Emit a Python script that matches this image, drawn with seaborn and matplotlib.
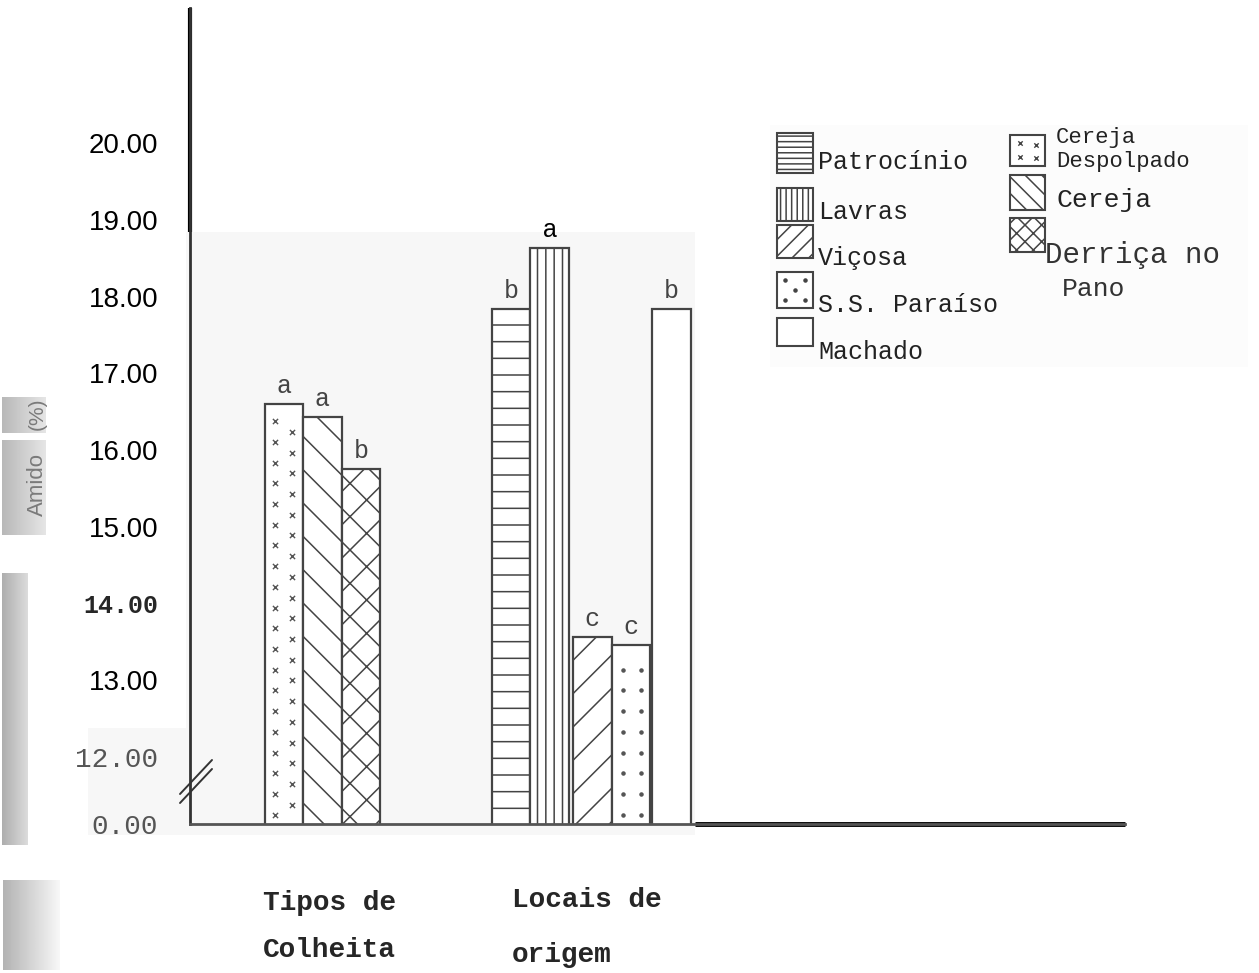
import numpy as np
import pandas as pd
import matplotlib
matplotlib.use("Agg")
import matplotlib.pyplot as plt
import seaborn as sns
from matplotlib.patches import Rectangle

# ---- data -----------------------------------------------------------------
colheita = ["Cereja Despolpado", "Cereja", "Derriça no Pano"]
colheita_vals = [16.60, 16.43, 15.75]
colheita_letters = ["a", "a", "b"]

locais = ["Patrocínio", "Lavras", "Viçosa", "S.S. Paraíso", "Machado"]
locais_vals = [17.84, 18.63, 13.56, 13.46, 17.84]
locais_letters = ["b", "a", "c", "c", "b"]

ytick_vals = [12, 13, 14, 15, 16, 17, 18, 19, 20]
ytick_labels = ["12.00", "13.00", "14.00", "15.00", "16.00",
                "17.00", "18.00", "19.00", "20.00"]
zero_label = "0.00"

group_labels = [("Tipos de", "Colheita"), ("Locais de", "origem")]
y_label_parts = ("Amido", "(%)")

# ---- style ----------------------------------------------------------------
sns.set_style("white")
SANS = "Liberation Sans"
MONO = "Liberation Mono"
plt.rcParams["font.family"] = [SANS, "DejaVu Sans"]
plt.rcParams["hatch.linewidth"] = 1.1

EDGE = "#444444"
hatches = {
    "Cereja": "\\", "Derriça no Pano": "x",
    "Patrocínio": "-", "Lavras": "||", "Viçosa": "/",
    "S.S. Paraíso": "", "Machado": "", "Cereja Despolpado": "",
}
# finer hatching for the small legend keys
legend_hatches = {
    "Cereja": "\\\\", "Derriça no Pano": "xx",
    "Patrocínio": "---", "Lavras": "|||", "Viçosa": "//",
    "S.S. Paraíso": "", "Machado": "", "Cereja Despolpado": "",
}

W, H = 1259, 973
fig = plt.figure(figsize=(W / 100, H / 100), dpi=100, facecolor="white")

# layer under the chart (paper patches) and over it (legend, captions)
under = fig.add_axes([0, 0, 1, 1], zorder=0)
under.set_xlim(0, W); under.set_ylim(H, 0); under.axis("off")
over = fig.add_axes([0, 0, 1, 1], zorder=3)
over.set_xlim(0, W); over.set_ylim(H, 0); over.axis("off")
over.patch.set_alpha(0)

ax = fig.add_axes([190 / W, (H - 824) / H, 935 / W, 816 / H], zorder=2)
ax.patch.set_alpha(0)

# broken axis: lower limit is drawn as 0.00
y_lo, y_hi = 11.127, 21.76
x_span = 935 / 38.5  # axis width in bar-width units

# ---- bar layout -----------------------------------------------------------
g1_start = 2.44
g1_pos = [g1_start + i for i in range(len(colheita))]
g2_start = 8.34
g2_gaps = np.cumsum([0, 0, 0.11, 0, 0.06])
g2_pos = [g2_start + i + g for i, g in enumerate(g2_gaps)]

names = colheita + locais
vals = colheita_vals + locais_vals
letters = colheita_letters + locais_letters
positions = g1_pos + g2_pos

for name, pos, val in zip(names, positions, vals):
    sns.barplot(x=[pos], y=[val], native_scale=True, width=1.0, ax=ax,
                color="white", saturation=1, edgecolor=EDGE, linewidth=1.6,
                hatch=hatches[name], zorder=2)
ax.set_xlim(0, x_span)
ax.set_ylim(y_lo, y_hi)

# scattered marks inside two bars
def marks_in_bar(pos, top, dx, step, stagger, marker, size):
    pts = []
    for j, off in enumerate(dx):
        ys = np.arange(y_lo + 0.12 + j * stagger, top - 0.12, step)
        pts += [(pos + off, y) for y in ys]
    pts = np.array(pts)
    ax.scatter(pts[:, 0], pts[:, 1], marker=marker, s=size, color="#555555",
               linewidths=1.0, zorder=3)

i_cd = names.index("Cereja Despolpado")
marks_in_bar(positions[i_cd], vals[i_cd], [-0.22, 0.2], 0.27, 0.13, "x", 14)
i_sp = names.index("S.S. Paraíso")
marks_in_bar(positions[i_sp], vals[i_sp], [-0.21, 0.26], 0.27, 0.0, "o", 5)

# significance letters
for name, pos, val, let in zip(names, positions, vals, letters):
    if name == "Lavras":
        kw = dict(family=SANS, color="black", fontsize=18)
    else:
        kw = dict(family=MONO, color="#444444", fontsize=18)
    ax.annotate(let, (pos, val), xytext=(0, 8), textcoords="offset points",
                ha="center", va="baseline", **kw)

# ---- axes -----------------------------------------------------------------
ax.set_xticks([])
ax.set_yticks([y_lo] + ytick_vals)
ax.set_yticklabels([zero_label] + ytick_labels)
ax.tick_params(axis="y", direction="out", length=3, width=2, pad=20,
               color="#222222", labelsize=20)
for lab in ax.get_yticklabels():
    t = lab.get_text()
    if t in ("0.00", "12.00"):
        lab.set_family(MONO); lab.set_color("#555555")
    elif t == "14.00":
        lab.set_family(MONO); lab.set_weight("bold"); lab.set_fontsize(18)
    else:
        lab.set_family(SANS); lab.set_color("black")

for s in ("top", "right"):
    ax.spines[s].set_visible(False)
ax.spines["left"].set_color("#333333")
ax.spines["left"].set_linewidth(2)
ax.spines["bottom"].set_color("#555555")
ax.spines["bottom"].set_linewidth(2)
# heavier rules on the upper axis and the right part of the baseline
ax.plot([0, 0], [(824 - 232) / 816, 1], transform=ax.transAxes,
        color="black", lw=3, clip_on=False, solid_capstyle="butt")
ax.plot([(695 - 190) / 935, 1], [0, 0], transform=ax.transAxes,
        color="black", lw=3.5, clip_on=False, solid_capstyle="butt")

# axis break marks
for dy in (0, 9):
    over.plot([180, 212], [794 + dy, 760 + dy], color="#333333", lw=1.4)

# ---- paper patches ----------------------------------------------------------
under.add_patch(Rectangle((186, 232), 509, 603, color="#f7f7f7", lw=0))
under.add_patch(Rectangle((88, 728), 98, 107, color="#f7f7f7", lw=0))
under.add_patch(Rectangle((770, 125), 478, 242, color="#fcfcfc", lw=0))

def gradient(x0, y0, w, h, lo, hi):
    g = np.linspace(lo, hi, 64)[None, :]
    under.imshow(g, extent=(x0, x0 + w, y0 + h, y0), cmap="gray",
                 vmin=0, vmax=1, aspect="auto", zorder=1)

gradient(2, 397, 44, 36, 0.72, 0.9)
gradient(2, 440, 44, 95, 0.72, 0.9)
gradient(2, 573, 26, 272, 0.68, 0.86)
gradient(3, 880, 57, 90, 0.7, 0.97)
under.set_xlim(0, W); under.set_ylim(H, 0)

over.text(37, 484, y_label_parts[0], rotation=90, ha="center", va="center",
          family=SANS, fontsize=16, color="#7a7a7a")
over.text(37, 414, y_label_parts[1], rotation=90, ha="center", va="center",
          family=SANS, fontsize=15, color="#7a7a7a")

# ---- legend -----------------------------------------------------------------
def legend_box(x, y, w, h, name):
    over.add_patch(Rectangle((x, y), w, h, facecolor="white",
                             edgecolor=EDGE, lw=1.5,
                             hatch=legend_hatches[name]))

col1 = [("Patrocínio", 133, 40, 162), ("Lavras", 188, 33, 212),
        ("Viçosa", 225, 33, 258), ("S.S. Paraíso", 272, 36, 305),
        ("Machado", 318, 28, 352)]
for name, yb, hb, yt in col1:
    legend_box(777, yb, 36, hb, name)
    over.text(818, yt, name, family=MONO, fontsize=18, va="center",
              ha="left", color="#222222")
# dots for S.S. Paraíso legend key
over.scatter([785, 805, 795, 785, 805], [280, 280, 290, 300, 300],
             s=5, color="#444444", zorder=5)

legend_box(1010, 135, 35, 31, "Cereja Despolpado")
over.scatter([1020, 1036, 1020, 1036], [143, 145, 157, 158], marker="x",
             s=10, color="#444444", linewidths=1, zorder=5)
over.text(1056, 138, "Cereja", family=MONO, fontsize=16, va="center",
          color="#222222")
over.text(1056, 162, "Despolpado", family=MONO, fontsize=16, va="center",
          color="#222222")
legend_box(1010, 175, 35, 35, "Cereja")
over.text(1057, 200, "Cereja", family=MONO, fontsize=19, va="center",
          color="#222222")
legend_box(1010, 218, 35, 34, "Derriça no Pano")
over.text(1045, 255, "Derriça no", family=MONO, fontsize=21, va="center",
          color="#333333")
over.text(1062, 289, "Pano", family=MONO, fontsize=19, va="center",
          color="#333333")

# ---- group captions -----------------------------------------------------------
for (l1, l2), x, y1, y2 in zip(group_labels, (263, 512), (903, 900), (950, 955)):
    over.text(x, y1, l1, family=MONO, weight="bold", fontsize=20,
              va="center", ha="left")
    over.text(x, y2, l2, family=MONO, weight="bold", fontsize=20,
              va="center", ha="left")

fig.savefig("out.png", dpi=100, facecolor="white")
